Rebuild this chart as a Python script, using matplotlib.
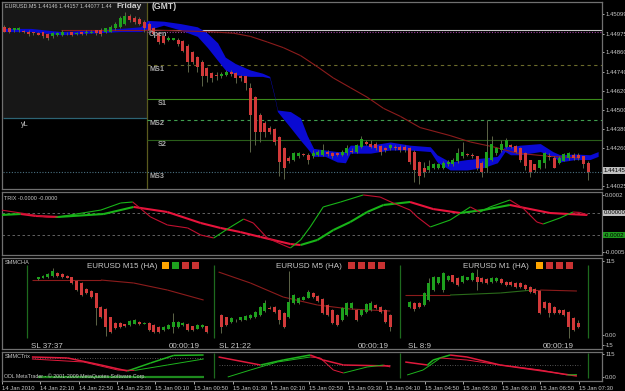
import numpy as np
import matplotlib
matplotlib.use("Agg")
import matplotlib.pyplot as plt
from matplotlib.collections import LineCollection
from matplotlib.patches import Rectangle

plt.rcParams['font.family'] = ['Liberation Sans', 'DejaVu Sans']

# ---------------- EURUSD M5 heiken ashi candles (bar index 0..121) ----------------
main_open = [1.4502, 1.4501, 1.4500, 1.4500, 1.4499, 1.4499, 1.4499, 1.4498, 1.4499, 1.44975,
             1.4496, 1.4497, 1.4497, 1.4498, 1.4499, 1.44975, 1.4499, 1.4498, 1.4498, 1.4500,
             1.4500, 1.4499, 1.4499, 1.4501, 1.4502, 1.4504, 1.4509, 1.45075, 1.4507, 1.4505,
             1.4504, 1.4501, 1.4498, 1.4496, 1.4494, 1.4494, 1.4494, 1.4493, 1.4490, 1.4486,
             1.4483, 1.4480, 1.4476, 1.4473, 1.4472, 1.4471, 1.4472, 1.4474, 1.4473, 1.4471,
             1.4471, 1.4464, 1.4458, 1.4447, 1.4442, 1.4439, 1.4438, 1.4433, 1.4426, 1.4420,
             1.4419, 1.4421, 1.4422, 1.4422, 1.4421, 1.4422, 1.4422, 1.4424, 1.4423, 1.4423,
             1.4422, 1.4423, 1.4424, 1.4424, 1.4427, 1.4430, 1.4429, 1.4429, 1.44275, 1.4426,
             1.4426, 1.4427, 1.4427, 1.4427, 1.4426, 1.4424, 1.44175, 1.4414, 1.44125, 1.4414,
             1.4414, 1.4414, 1.4416, 1.4416, 1.4418, 1.4421, 1.4422, 1.4422, 1.4421, 1.4417,
             1.4414, 1.4419, 1.4423, 1.4425, 1.4427, 1.4428, 1.44275, 1.4426, 1.4423, 1.4419,
             1.4416, 1.4414, 1.4417, 1.4421, 1.4420, 1.4417, 1.4418, 1.4420, 1.4422, 1.4422,
             1.4421, 1.4417]
main_high = [1.4503, 1.4502, 1.4501, 1.4502, 1.4500, 1.4500, 1.4499, 1.4499, 1.4499, 1.4498,
             1.4499, 1.4499, 1.4500, 1.4499, 1.4499, 1.4499, 1.4499, 1.4500, 1.4500, 1.4500,
             1.4501, 1.4501, 1.4503, 1.4505, 1.4509, 1.4511, 1.4510, 1.4509, 1.4508, 1.4506,
             1.4505, 1.4502, 1.4499, 1.4497, 1.4496, 1.4495, 1.4495, 1.4494, 1.4491, 1.4487,
             1.4484, 1.4481, 1.4477, 1.4474, 1.4474, 1.4474, 1.4475, 1.4475, 1.4474, 1.4472,
             1.4471, 1.4467, 1.4459, 1.4448, 1.4443, 1.4440, 1.4439, 1.4434, 1.4427, 1.4421,
             1.4424, 1.4424, 1.4423, 1.4423, 1.4425, 1.4425, 1.4429, 1.4425, 1.4424, 1.4424,
             1.4425, 1.4428, 1.4426, 1.4429, 1.4434, 1.4431, 1.4431, 1.4430, 1.4428, 1.4427,
             1.4429, 1.4428, 1.4428, 1.4428, 1.4427, 1.4425, 1.4418, 1.44175, 1.4419, 1.4417,
             1.4417, 1.4418, 1.4419, 1.4420, 1.4426, 1.4430, 1.4423, 1.4423, 1.4421, 1.4418,
             1.4444, 1.4434, 1.4427, 1.4431, 1.44325, 1.4429, 1.4428, 1.4427, 1.4424, 1.4419,
             1.4416, 1.4419, 1.4424, 1.4423, 1.4421, 1.4421, 1.4423, 1.4424, 1.4423, 1.4423,
             1.4421, 1.4418]
main_low = [1.4499, 1.4498, 1.4499, 1.4499, 1.4498, 1.4496, 1.4497, 1.4497, 1.4495, 1.4494,
            1.4495, 1.4496, 1.4496, 1.4497, 1.4496, 1.4497, 1.4497, 1.4497, 1.4498, 1.4497,
            1.4496, 1.4498, 1.4499, 1.4500, 1.4501, 1.4503, 1.4505, 1.4504, 1.4503, 1.4499,
            1.4499, 1.4497, 1.4491, 1.4491, 1.4493, 1.4494, 1.4490, 1.4486, 1.4474, 1.4479,
            1.4474, 1.4465, 1.44675, 1.44675, 1.4469, 1.4470, 1.4471, 1.4471, 1.4467, 1.4468,
            1.44625, 1.4424, 1.4428, 1.4430, 1.4433, 1.4435, 1.4428, 1.4409, 1.4407, 1.4417,
            1.4418, 1.4420, 1.4421, 1.4416, 1.4420, 1.4421, 1.4421, 1.4421, 1.4420, 1.4421,
            1.4421, 1.4422, 1.4423, 1.4423, 1.4426, 1.4428, 1.4426, 1.4425, 1.4422, 1.4424,
            1.4425, 1.4425, 1.4424, 1.4424, 1.4416, 1.4405, 1.4404, 1.4408, 1.4411, 1.4413,
            1.4413, 1.4413, 1.4415, 1.4415, 1.4417, 1.4420, 1.4421, 1.4420, 1.44125, 1.4408,
            1.4411, 1.4418, 1.4422, 1.4424, 1.4426, 1.4426, 1.4423, 1.44175, 1.44125, 1.4408,
            1.4411, 1.4413, 1.4414, 1.4419, 1.4414, 1.4416, 1.4418, 1.4419, 1.4419, 1.4419,
            1.4414, 1.4406]
main_close = [1.4499, 1.4499, 1.4501, 1.4501, 1.4499, 1.44975, 1.4498, 1.4497, 1.4496, 1.4495,
              1.4498, 1.4498, 1.4499, 1.4498, 1.4497, 1.4498, 1.44975, 1.4499, 1.4499, 1.4498,
              1.44975, 1.4501, 1.4502, 1.4504, 1.45075, 1.4509, 1.4506, 1.4505, 1.4504, 1.4501,
              1.4500, 1.44975, 1.44925, 1.4492, 1.4495, 1.4495, 1.4491, 1.4487, 1.4480, 1.4480,
              1.4477, 1.4471, 1.4471, 1.4470, 1.44715, 1.44725, 1.4474, 1.44725, 1.4470, 1.4470,
              1.4467, 1.4447, 1.4436, 1.4436, 1.4436, 1.4436, 1.4430, 1.44175, 1.4414, 1.4418,
              1.4423, 1.4423, 1.4422, 1.4419, 1.4423, 1.4424, 1.4425, 1.44225, 1.4421, 1.4422,
              1.4424, 1.4426, 1.4424, 1.4428, 1.4432, 1.4429, 1.4427, 1.4426, 1.4424, 1.4425,
              1.4428, 1.4426, 1.4425, 1.4425, 1.44175, 1.44125, 1.4409, 1.4411, 1.4415, 1.4416,
              1.4416, 1.4417, 1.44175, 1.4419, 1.4423, 1.4424, 1.4422, 1.4421, 1.4414, 1.4411,
              1.4424, 1.4429, 1.4426, 1.4429, 1.4431, 1.4427, 1.4424, 1.4419, 1.4415, 1.4411,
              1.44125, 1.4419, 1.4423, 1.44205, 1.4414, 1.4420, 1.44225, 1.4423, 1.4420, 1.4420,
              1.4416, 1.4411]

# blue band (upper / lower edge)
cloud_x = [0, 5.5, 11.7, 17.9, 24.1, 28.2, 29.7, 33.0, 36.5, 40.0, 42.1, 44.2, 45.8, 47.9, 51.0,
           53.5, 55.0, 56.0, 56.6, 59.3, 61.4, 62.8, 64.1, 66.5, 69.0, 70.7, 71.7, 75.9, 80.0, 84.1,
           88.3, 89.7, 92.4, 95.9, 99.3, 102.2, 103.8, 104.9, 106.9, 111.1, 113.7, 115.2, 118.3, 121.4, 123.1]
cloud_hi = [1.4501, 1.4501, 1.4499, 1.4500, 1.4501, 1.4502, 1.4506, 1.45055, 1.4504, 1.4502,
            1.4498, 1.4492, 1.4483, 1.4479, 1.4475, 1.4473, 1.4471, 1.4459, 1.4450, 1.4449,
            1.4445, 1.4434, 1.4426, 1.4425, 1.4424, 1.4424, 1.4428, 1.4428, 1.4430, 1.4428,
            1.4427, 1.4422, 1.44175, 1.4419, 1.4420, 1.4421, 1.44275, 1.4427, 1.4428, 1.4429,
            1.4424, 1.4422, 1.44225, 1.4422, 1.4424]
cloud_lo = [1.4499, 1.4499, 1.4497, 1.4498, 1.4499, 1.4499, 1.4500, 1.4503, 1.4500, 1.4496,
            1.4489, 1.4481, 1.4475, 1.4472, 1.4471, 1.4471, 1.4470, 1.4458, 1.4449, 1.4439,
            1.4431, 1.4426, 1.4421, 1.4421, 1.44175, 1.4417, 1.4423, 1.4423, 1.4425, 1.4425,
            1.4424, 1.44175, 1.44125, 1.44125, 1.4414, 1.4417, 1.4424, 1.4422, 1.4422, 1.4424,
            1.4421, 1.44175, 1.4419, 1.4419, 1.4421]

# slow moving average
ma_x = [11.7, 29.5, 42.1, 47.5, 51.0, 54.5, 57.8, 61.4, 64.9, 68.2, 71.7, 75.2, 78.6, 82.1,
        86.2, 92.4, 96.6, 101.3, 106.3, 113.1, 119.3]
ma_y = [1.4500, 1.4500, 1.4499, 1.4498, 1.4496, 1.44925, 1.4489, 1.4484, 1.4477, 1.4470,
        1.4464, 1.4458, 1.4451, 1.4446, 1.4439, 1.4434, 1.4430, 1.4427, 1.4423, 1.4421, 1.4420]

# pivot levels
level_names = ["Open", "MS1", "S1", "MS2", "S2", "MS3"]
level_prices = [1.4500, 1.4478, 1.4457, 1.4444, 1.4431, 1.4411]
price_ticks = [1.45099, 1.44975, 1.44860, 1.44740, 1.44620, 1.44500, 1.44380, 1.44260, 1.44025]

# ---------------- TRIX ----------------
trix_sig_x = [-0.7, 3.4, 6.5, 11.1, 20.6, 26.8, 33.8, 40.7, 44.8, 48.9, 53.1, 59.3, 61.4,
              64.9, 68.2, 71.7, 75.2, 78.6, 84.1, 88.9, 94.5, 99.3, 104.8, 113.1, 120.8]
trix_sig_y = [-0.18e-4, -0.09e-4, -0.27e-4, -0.36e-4, -0.09e-4, 0.55e-4, 0.09e-4, -0.91e-4,
              -1.36e-4, -1.73e-4, -2.18e-4, -2.82e-4, -2.91e-4, -2.45e-4, -1.55e-4, -0.82e-4,
              0.09e-4, 0.73e-4, 1.0e-4, 0.36e-4, 0.0, 0.27e-4, 0.73e-4, 0.0, -0.18e-4]
trix_x = [-0.7, 3.4, 8.6, 10.6, 20.0, 24.1, 26.6, 30.3, 33.8, 38.0, 40.7, 43.4, 46.9, 49.6,
          51.6, 54.5, 57.8, 59.3, 61.4, 63.4, 66.1, 69.7, 74.4, 77.9, 80.6, 84.1, 85.6, 88.3,
          92.4, 96.6, 98.6, 100.7, 104.8, 107.5, 110.4, 111.7, 115.2, 117.9, 119.3, 121.0]
trix_y = [0.27e-4, 0.0, -0.36e-4, -0.40e-4, 0.27e-4, 0.91e-4, 1.0e-4, -0.36e-4, -1.09e-4,
          -1.36e-4, -2.0e-4, -2.27e-4, -1.27e-4, -0.55e-4, -0.91e-4, -2.27e-4, -2.91e-4,
          -3.18e-4, -2.45e-4, -1.27e-4, 0.55e-4, 1.0e-4, 1.64e-4, 1.45e-4, 0.91e-4, 0.27e-4,
          -0.36e-4, -1.27e-4, -0.64e-4, 0.55e-4, 0.09e-4, 0.55e-4, 1.18e-4, 0.45e-4, -0.82e-4,
          -1.0e-4, -0.45e-4, 0.09e-4, 0.05e-4, -0.18e-4]

# ---------------- SMMCHA mini charts (0..100 scale) ----------------
m15_x = np.arange(7, 43)
m15_open = [87.2, 88.7, 90.2, 91.8, 96.4, 94.9, 91.8, 90.2, 84.1, 81.0, 71.7, 68.6, 65.5, 43.8,
            40.7, 28.3, 19.0, 19.0, 17.5, 15.9, 17.5, 20.6, 17.5, 19.0, 15.9, 12.8, 8.2, 9.8,
            12.8, 12.8, 15.9, 17.5, 14.4, 9.8, 12.8, 14.4]
m15_close = [90.2, 91.8, 94.9, 99.5, 91.8, 90.2, 88.7, 81.0, 70.1, 62.4, 65.5, 59.3, 42.3, 28.3,
             12.8, 5.1, 11.3, 12.8, 14.4, 22.1, 23.7, 17.5, 19.0, 8.2, 5.1, 5.1, 12.8, 15.9,
             20.6, 20.6, 19.0, 8.2, 8.2, 15.9, 15.9, 5.1]
m15_high = [91, 93, 96, 104, 98, 96, 93, 91, 85, 82, 73, 70, 66, 45, 42, 29, 20, 20, 18, 23,
            25, 22, 20, 20, 17, 14, 14, 17, 34.5, 22, 20, 19, 15, 17, 17, 15]
m15_low = [86, 88, 89, 91, 91, 89, 88, 80, 69, 61, 64, 58, 15.9, 27, -1.1, 4, 10, 12, 13, 15,
           17, 16, 17, 7, 4, 4, 7, 9, 3.6, 12, 15, 7, 7, 9, 12, 4]
m15_ma_x = [5.7, 20.0, 26.8, 33.8, 41.3]
m15_ma_y = [85.6, 85.6, 81.0, 70.1, 54.6]

m5_x = np.arange(45, 81)
m5_open = [31.4, 28.3, 20.6, 23.7, 23.7, 23.7, 26.8, 28.3, 31.4, 37.6, 42.3, 43.8, 39.2, 34.5,
           28.3, 50.0, 50.0, 54.6, 57.7, 65.5, 60.8, 56.2, 46.9, 39.2, 31.4, 23.7, 31.4, 42.3,
           39.2, 31.4, 36.1, 39.2, 46.9, 43.8, 39.2, 31.4]
m5_close = [12.8, 15.9, 26.8, 23.0, 28.3, 29.9, 31.4, 36.1, 43.8, 50.0, 41.5, 36.1, 23.7, 12.8,
            51.5, 62.4, 57.7, 59.3, 67.0, 59.3, 53.1, 34.5, 31.4, 19.0, 15.9, 42.3, 50.0, 50.0,
            23.7, 39.2, 48.5, 50.0, 42.3, 36.1, 20.6, 12.8]
m5_high = [33, 29, 28, 26, 29, 31, 33, 37, 45, 54, 45, 45, 40, 36, 99.5, 64, 59, 61, 70, 67,
           62, 57, 48, 40, 33, 44, 52, 51, 40, 40, 50, 53, 48, 45, 40, 33]
m5_low = [3.6, 14, 19, 21, 22, 23, 26, 27, 30, 36, 40, 35, 17.5, 11, 27, 49, 49, 54, 57, 58,
          52, 33, 30, 17, 14, 22, 30, 41, 22, 30, 35, 38, 41, 35, 19, 6.7]
m5_ma_x = [44.4, 51.0, 57.8, 64.9, 71.7, 80.0]
m5_ma_y = [98.0, 81.0, 59.3, 46.9, 40.7, 37.6]

m1_x = np.arange(84, 120)
m1_open = [43.8, 50.0, 50.0, 46.9, 54.6, 70.1, 81.0, 70.1, 85.6, 93.3, 88.7, 82.5, 85.6, 85.6,
           90.2, 88.7, 87.2, 82.5, 84.1, 87.2, 82.5, 82.5, 81.0, 81.0, 77.9, 74.8, 71.7, 68.6,
           51.5, 50.0, 43.8, 39.2, 39.2, 36.1, 26.8, 19.0]
m1_close = [51.5, 40.7, 43.8, 65.5, 81.0, 90.2, 90.2, 96.4, 91.8, 82.5, 77.9, 91.8, 90.2, 96.4,
            82.5, 82.5, 81.0, 88.7, 88.7, 81.0, 77.9, 77.9, 74.8, 74.8, 71.7, 67.0, 65.5, 34.5,
            42.3, 34.5, 34.5, 34.5, 31.4, 12.8, 8.2, 12.8]
m1_high = [53, 51, 51, 67, 88.7, 92, 91, 98, 93, 94, 90, 93, 91, 98, 102.6, 90, 88, 90, 90, 88,
           84, 84, 82, 82, 79, 76, 73, 70, 53, 51, 45, 40, 40, 37, 28, 23]
m1_low = [42, 38, 42, 45, 53, 68, 80, 67, 84, 81, 77, 81, 85, 84, 70.1, 81, 80, 81, 83, 80,
          76, 76, 73, 73, 70, 66, 64, 33, 41, 28, 33, 33, 30, -4.2, 7, 11]
m1_ma_x = [83.1, 92.4, 102.8, 109.6, 111.1, 118.7]
m1_ma_y = [62.4, 62.4, 65.5, 70.1, 70.1, 68.6]

mini_titles = ["EURUSD M15 (HA)", "EURUSD M5 (HA)", "EURUSD M1 (HA)"]
mini_title_x = [17.1, 56.4, 95.1]
mini_sl = ["SL 37:37", "SL 21:22", "SL 8:9"]
mini_sl_x = [5.5, 44.4, 83.7]
mini_clock_x = [34.0, 73.2, 111.7]
mini_squares = [["#ffa500", "#1ea01e", "#c83232", "#c83232"],
                ["#c83232", "#c83232", "#c83232", "#c83232"],
                ["#ffa500", "#c83232", "#c83232", "#c83232"]]
mini_square_x = [32.6, 71.3, 110.2]
mini_sep_x = [4.6, 43.4, 82.1, 121.0]

# ---------------- SMMCTrix ----------------
ct_lines = [
    ([5.7, 13.1, 20.0, 25.5, 30.3, 35.1, 41.3], [100, 95, 60, 30, 70, 108, 110], 1.1),
    ([5.7, 16.4, 23.5, 27.0, 33.8, 41.3], [90, 75, 35, 33, 60, 90], 0.7),
    ([44.4, 53.1, 57.8, 63.4, 66.1, 70.3, 80.0], [100, 60, 85, 110, 85, 60, 55], 1.1),
    ([46.3, 51.0, 56.6, 63.4, 65.5, 68.2, 70.3, 75.2, 78.6, 80.0], [0, 35, 75, 100, 95, 35, 20, 50, 60, 50], 0.7),
    ([83.1, 87.7, 88.9, 92.4, 95.9, 102.8, 113.1, 118.7], [75, 60, 85, 110, 100, 60, 25, 5], 1.1),
    ([83.5, 86.8, 90.4, 95.9, 102.8, 111.1, 116.7, 118.7], [10, 35, 95, 85, 60, 35, 10, 12], 0.7),
]

time_pos = [-0.5, 7.4, 15.4, 23.4, 31.3, 39.3, 47.3, 55.3, 63.2, 71.2, 79.2, 87.2, 95.1, 103.1, 111.1, 119.1]
time_labels = ["14 Jan 2010", "14 Jan 22:10", "14 Jan 22:50", "14 Jan 23:30", "15 Jan 00:10",
               "15 Jan 00:50", "15 Jan 01:30", "15 Jan 02:10", "15 Jan 02:50", "15 Jan 03:30",
               "15 Jan 04:10", "15 Jan 04:50", "15 Jan 05:30", "15 Jan 06:10", "15 Jan 06:50",
               "15 Jan 07:30"]

BG = "#000000"
RED = "#d23a3a"
GREEN = "#1ea01e"
WICK = "#5d6548"
TXT = "#c8c8c8"
FRAME = "#707070"
AXFS = 4.3   # right-hand scale and time labels


def px_rect(x0, y0, x1, y1):
    # pixel box on the 625x391 canvas -> figure fraction
    return [x0 / 625, 1 - y1 / 391, (x1 - x0) / 625, (y1 - y0) / 391]


def candles(ax, x, o, h, l, c, min_h):
    x = np.asarray(x, float)
    o, h, l, c = [np.asarray(v, float) for v in (o, h, l, c)]
    cols = np.where(c > o, GREEN, RED)
    ax.vlines(x, l, h, color=WICK, lw=0.7, zorder=3)
    ax.bar(x, np.maximum(np.abs(c - o), min_h), bottom=np.minimum(o, c), width=0.62,
           color=cols, lw=0, zorder=4)


def slope_line(ax, x, y, lw, up, down, z=3):
    pts = np.column_stack([x, y])
    segs = np.stack([pts[:-1], pts[1:]], axis=1)
    cols = [up if b > a else down for a, b in zip(y[:-1], y[1:])]
    ax.add_collection(LineCollection(segs, colors=cols, linewidths=lw, zorder=z))


fig = plt.figure(figsize=(6.25, 3.91), dpi=100, facecolor=BG)
ax_main = fig.add_axes(px_rect(2, 2, 602, 189))
ax_trix = fig.add_axes(px_rect(2, 192, 602, 255), sharex=ax_main)
ax_ha = fig.add_axes(px_rect(2, 258, 602, 349), sharex=ax_main)
ax_ct = fig.add_axes(px_rect(2, 352, 602, 381), sharex=ax_main)

for ax in (ax_main, ax_trix, ax_ha, ax_ct):
    ax.set_facecolor(BG)
    for s in ax.spines.values():
        s.set_color(FRAME)
        s.set_linewidth(0.9)
    ax.yaxis.tick_right()
    ax.tick_params(axis="y", colors=TXT, length=1.5, width=0.6, labelsize=AXFS, pad=0.8)
    ax.tick_params(axis="x", length=0, labelbottom=False)

ax_main.set_xlim(-0.33, 123.9)

# ---- main chart ----
ax_main.set_ylim(1.44006, 1.45175)
ax_main.add_patch(Rectangle((-0.33, 1.4445), 29.83, 1.45175 - 1.4445, facecolor="#171717",
                            edgecolor="none", zorder=0))
ax_main.hlines(1.4445, -0.33, 29.5, color="#2d6474", lw=0.9, zorder=1)
ax_main.axvline(29.5, color="#5a5a1e", lw=0.9, zorder=1)

ax_main.fill_between(cloud_x, cloud_lo, cloud_hi, color="#0a0ad2", lw=0, zorder=2)
slope_line(ax_main, ma_x, ma_y, 0.8, "#2a6a1a", "#8c1c1c", z=2.5)

lvl_style = {"Open": ("#c8c8c8", "-"), "MS1": ("#6b6b2b", (0, (3, 3))),
             "S1": ("#3a8a1a", "-"), "MS2": ("#40a050", (0, (3, 3))),
             "S2": ("#2a5e1a", "-"), "MS3": ("#4a7080", (0, (1, 1.5)))}
for name, p in zip(level_names, level_prices):
    col, ls = lvl_style[name]
    x0 = -0.33 if name == "MS3" else 29.5
    ax_main.hlines(p, x0, 123.9, color=col, lw=0.8, linestyles=[ls], zorder=1.5)
    lx = 31.8 if name.startswith("S") else 30.0
    ax_main.text(lx, p - 0.00005, name, color="#a8a8a8", fontsize=5.2, fontweight="bold",
                 va="top", ha="left", zorder=6)
ax_main.hlines(1.4499, 29.5, 123.9, color="#a040a0", lw=0.8, linestyles=[(0, (1, 1.5))], zorder=1.5)

candles(ax_main, np.arange(len(main_open)), main_open, main_high, main_low, main_close, 0.00002)

ax_main.set_yticks(price_ticks)
ax_main.set_yticklabels([f"{p:.5f}" for p in price_ticks])
ax_main.text(1.003, 1.4412, "1.44145", transform=ax_main.get_yaxis_transform(), fontsize=AXFS,
             color="#000000", va="center", ha="left", clip_on=False,
             bbox=dict(boxstyle="square,pad=0.15", fc="#c0c0c0", ec="none"))

ax_main.text(0.1, 1.45144, "EURUSD.M5 1.44146 1.44157 1.44077 1.44", color=TXT, fontsize=3.9,
             va="center", ha="left", zorder=6)
ax_main.text(23.3, 1.45144, "Friday", color="#d0d0d0", fontsize=6, fontweight="bold",
             va="center", ha="left", zorder=7)
ax_main.text(30.5, 1.45144, "(GMT)", color="#d0d0d0", fontsize=6.2, fontweight="bold",
             va="center", ha="left", zorder=7)
ax_main.text(3.4, 1.4441, "yL", color=TXT, fontsize=5.2, va="center", ha="left", zorder=6)

# ---- TRIX ----
ax_trix.set_ylim(-3.818e-4, 1.909e-4)
ax_trix.axhline(0.0, color="#707070", lw=0.6, ls=(0, (3, 3)))
ax_trix.axhline(-0.0002, color="#707070", lw=0.6, ls=(0, (3, 3)))
slope_line(ax_trix, trix_sig_x, trix_sig_y, 1.5, "#18b418", "#e8143c")
slope_line(ax_trix, trix_x, trix_y, 0.8, "#18b418", "#c01030", z=3.5)
ax_trix.set_yticks([1.64e-4, -3.55e-4])
ax_trix.set_yticklabels(["0.0002", "-0.0005"])
ax_trix.text(1.003, 0.0, "0.00000", transform=ax_trix.get_yaxis_transform(), fontsize=AXFS,
             color="#000000", va="center", ha="left", clip_on=False,
             bbox=dict(boxstyle="square,pad=0.15", fc="#c0c0c0", ec="none"))
ax_trix.text(1.003, -0.0002, "-0.0002", transform=ax_trix.get_yaxis_transform(), fontsize=AXFS,
             color="#000000", va="center", ha="left", clip_on=False,
             bbox=dict(boxstyle="square,pad=0.15", fc="#1e9a1e", ec="none"))
ax_trix.text(0.004, 0.9, "TRIX -0.0000 -0.0000", transform=ax_trix.transAxes, color=TXT,
             fontsize=4.0, va="center", ha="left")

# ---- SMMCHA ----
ax_ha.set_ylim(-21.2, 119.7)
ax_ha.vlines(mini_sep_x, -4.2, 108.2, color="#1e6a1e", lw=0.9, zorder=1)
for mx, my in ((m15_ma_x, m15_ma_y), (m5_ma_x, m5_ma_y), (m1_ma_x, m1_ma_y)):
    slope_line(ax_ha, mx, my, 0.8, "#2a6a1a", "#8c1c1c", z=2)
candles(ax_ha, m15_x, m15_open, m15_high, m15_low, m15_close, 0.8)
candles(ax_ha, m5_x, m5_open, m5_high, m5_low, m5_close, 0.8)
candles(ax_ha, m1_x, m1_open, m1_high, m1_low, m1_close, 0.8)
for k in range(3):
    ax_ha.text(mini_title_x[k], 107.3, mini_titles[k], color=TXT, fontsize=5.8, va="center", ha="left")
    for j, col in enumerate(mini_squares[k]):
        ax_ha.add_patch(Rectangle((mini_square_x[k] + 2.07 * j, 102.6), 1.45, 10.9,
                                  facecolor=col, edgecolor="none", zorder=5))
    ax_ha.text(mini_sl_x[k], -16.6, mini_sl[k], color=TXT, fontsize=5.8, va="center", ha="left")
    ax_ha.text(mini_clock_x[k], -16.6, "00:00:19", color=TXT, fontsize=5.8, va="center", ha="left")
ax_ha.set_yticks([115, 0, -15])
ax_ha.set_yticklabels(["115", "0.00", "-15"])
ax_ha.text(0.004, 0.955, "SMMCHA", transform=ax_ha.transAxes, color=TXT, fontsize=4.0,
           va="center", ha="left")

# ---- SMMCTrix ----
ax_ct.set_ylim(-20, 125)
ax_ct.vlines(mini_sep_x[1:], -5, 120, color="#1e6a1e", lw=0.9, zorder=1)
ax_ct.hlines(95, 5.7, 41.3, color="#707070", lw=0.6, linestyles=[(0, (1, 2))])
ax_ct.hlines(60, 44.4, 80.0, color="#707070", lw=0.6, linestyles=[(0, (1, 2))])
ax_ct.hlines(60, 87.7, 119.3, color="#707070", lw=0.6, linestyles=[(0, (1, 2))])
ax_ct.hlines(0, 6.9, 41.3, color="#1e8a1e", lw=1.6)
for lx, ly, lw in ct_lines:
    slope_line(ax_ct, lx, ly, lw, "#1eb41e", "#e01a3c")
ax_ct.set_yticks([115, 0])
ax_ct.set_yticklabels(["115", "0.00"])
ax_ct.text(0.004, 0.83, "SMMCTrix", transform=ax_ct.transAxes, color=TXT, fontsize=4.0,
           va="center", ha="left")
ax_ct.text(0.004, 0.17, "ODL MetaTrader - \u00a9 2001-2009 MetaQuotes Software Corp.",
           transform=ax_ct.transAxes, color=TXT, fontsize=3.8, va="center", ha="left", zorder=6)

ax_ct.set_xticks(time_pos)
ax_ct.set_xticklabels(time_labels, ha="left")
ax_ct.tick_params(axis="x", length=2.5, width=0.6, colors=TXT, labelsize=4.2, pad=0.8,
                  labelbottom=True)
for ax in (ax_main, ax_trix, ax_ha):
    ax.tick_params(axis="x", length=0, labelbottom=False)

fig.savefig("out.png", dpi=100, facecolor=BG)
